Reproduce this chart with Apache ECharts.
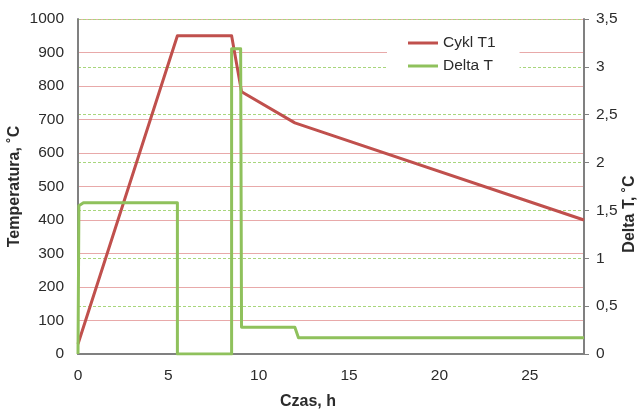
<!DOCTYPE html>
<html>
<head>
<meta charset="utf-8">
<script src="https://cdn.jsdelivr.net/npm/echarts@6/dist/echarts.min.js"></script>
<style>
  html, body { margin: 0; padding: 0; background: #fff; }
  #chart { width: 643px; height: 410px; }
</style>
</head>
<body>
<div id="chart"></div>
<script>
// Cykl T1 (temperature, °C) vs time (h)
const cyklTime = [0, 5.5, 8.5, 9.05, 12, 28];
const cyklTemp = [30, 950, 950, 783, 690, 400];

// Delta T (°C) vs time (h)
const deltaTime = [0, 0.05, 0.3, 5.5, 5.5, 8.5, 8.5, 9.0, 9.05, 12.0, 12.2, 28];
const deltaVal  = [0, 1.55, 1.58, 1.58, 0, 0, 3.19, 3.19, 0.28, 0.28, 0.17, 0.17];

const seriesNames = ['Cykl T1', 'Delta T'];
const xTitle = 'Czas, h';
const yLeftTitle = 'Temperatura, ˚C';
const yRightTitle = 'Delta T, ˚C';

const font = 'Liberation Sans, Arial, sans-serif';
const txt = '#2b2b2b';
const axisGray = '#808080';

const chart = echarts.init(document.getElementById('chart'), null, { renderer: 'canvas' });

chart.setOption({
  animation: false,
  backgroundColor: '#ffffff',
  textStyle: { fontFamily: font },
  grid: { left: 78, right: 59, top: 19, bottom: 56, containLabel: false, outerBoundsMode: 'none' },
  legend: {
    orient: 'vertical',
    left: 387,
    top: 26,
    backgroundColor: '#ffffff',
    padding: [8, 24, 4, 21],
    itemGap: 5,
    itemWidth: 30,
    itemHeight: 3,
    icon: 'rect',
    textStyle: { fontFamily: font, fontSize: 15.5, color: txt, lineHeight: 18 },
    data: seriesNames
  },
  xAxis: {
    type: 'value',
    min: 0, max: 28, interval: 5,
    name: xTitle,
    nameLocation: 'middle',
    nameGap: 40,
    nameMoveOverlap: false,
    nameTextStyle: { fontFamily: font, fontSize: 16, fontWeight: 'bold', color: txt, padding: [0, 46, 0, 0] },
    axisLine: { show: true, onZero: false, lineStyle: { color: axisGray, width: 2 } },
    axisTick: { show: false },
    axisLabel: { fontFamily: font, fontSize: 15.5, color: txt, margin: 14, showMaxLabel: false },
    splitLine: { show: false }
  },
  yAxis: [
    {
      type: 'value',
      min: 0, max: 1000, interval: 100,
      name: yLeftTitle,
      nameLocation: 'middle',
      nameGap: 55,
      nameMoveOverlap: false,
      nameTextStyle: { fontFamily: font, fontSize: 16, fontWeight: 'bold', color: txt },
      axisLine: { show: true, lineStyle: { color: axisGray, width: 2 } },
      axisTick: { show: false },
      axisLabel: { fontFamily: font, fontSize: 15.5, color: txt, margin: 14, formatter: v => String(v) },
      splitLine: { show: true, lineStyle: { color: '#E8A9A9', width: 1 } }
    },
    {
      type: 'value',
      position: 'right',
      min: 0, max: 3.5, interval: 0.5,
      name: yRightTitle,
      nameLocation: 'middle',
      nameGap: 38,
      nameMoveOverlap: false,
      nameTextStyle: { fontFamily: font, fontSize: 16, fontWeight: 'bold', color: txt, padding: [0, 55, 0, 0] },
      axisLine: { show: true, lineStyle: { color: axisGray, width: 2 } },
      axisTick: { show: true, inside: false, length: 5, lineStyle: { color: axisGray, width: 1 } },
      axisLabel: {
        fontFamily: font, fontSize: 15.5, color: txt, margin: 12,
        formatter: v => String(v).replace('.', ',')
      },
      splitLine: { show: true, lineStyle: { color: '#A8D67C', width: 1, type: [3, 2] } }
    }
  ],
  series: [
    {
      name: seriesNames[0],
      type: 'line',
      yAxisIndex: 0,
      showSymbol: false,
      symbol: 'none',
      lineStyle: { color: '#C0504D', width: 3, join: 'round' },
      itemStyle: { color: '#C0504D' },
      data: cyklTime.map((t, i) => [t, cyklTemp[i]]),
      z: 2
    },
    {
      name: seriesNames[1],
      type: 'line',
      yAxisIndex: 1,
      showSymbol: false,
      symbol: 'none',
      lineStyle: { color: '#8FC15C', width: 3, join: 'round' },
      itemStyle: { color: '#8FC15C' },
      data: deltaTime.map((t, i) => [t, deltaVal[i]]),
      z: 3
    }
  ]
});
</script>
</body>
</html>
